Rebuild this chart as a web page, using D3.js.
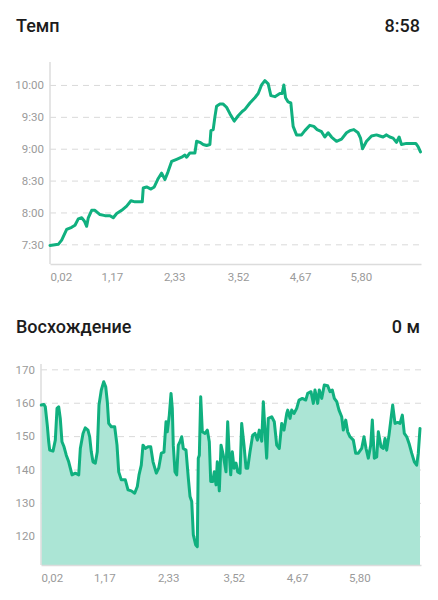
<!DOCTYPE html>
<html><head><meta charset="utf-8">
<script src="https://cdn.jsdelivr.net/npm/d3@7"></script>
<style>
html,body{margin:0;padding:0;background:#fff;}
svg{display:block;font-family:Roboto,"Noto Sans",sans-serif;}
</style></head>
<body><svg id="c" width="438" height="600"></svg>
<script>
// ---- data ----
const xTicks = [0.02, 1.17, 2.33, 3.52, 4.67, 5.80];
const xDomain = [0.02, 6.92];

const paceTitle = "Темп", paceValue = "8:58";
const paceTicks = [450, 480, 510, 540, 570, 600]; // seconds per km
const paceDomain = [431.5, 621.6];
const paceKm = [0.02,0.174,0.237,0.330,0.423,0.485,0.546,0.609,0.658,0.702,0.732,0.795,0.856,0.949,1.042,1.135,1.197,1.260,1.353,1.446,1.526,1.600,1.661,1.736,1.754,1.817,1.897,1.959,2.033,2.096,2.158,2.213,2.282,2.375,2.468,2.529,2.561,2.622,2.715,2.747,2.808,2.869,2.933,2.994,3.013,3.055,3.087,3.118,3.180,3.241,3.304,3.366,3.446,3.520,3.594,3.645,3.738,3.830,3.892,3.955,4.016,4.078,4.128,4.202,4.295,4.338,4.369,4.401,4.449,4.499,4.542,4.605,4.698,4.760,4.853,4.927,4.988,5.070,5.131,5.193,5.256,5.349,5.442,5.535,5.596,5.671,5.750,5.795,5.832,5.907,6.000,6.093,6.154,6.215,6.278,6.340,6.401,6.464,6.513,6.557,6.650,6.743,6.823,6.866,6.910];
const paceSec = [449,450,454,464,466,468,474,475,472,467,475,482,482,478,477,477,475,479,482,486,491,490,490,490,503,504,502,504,512,517,511,518,528,530,532,534,532,536,536,547,546,544,543,544,557,558,570,580,582,582,579,573,566,571,575,577,583,588,592,600,604,601,590,589,592,592,600,588,584,583,561,553,553,557,562,561,558,556,551,555,551,547,549,555,557,558,555,550,540,547,552,553,552,551,553,551,550,546,551,544,545,545,545,542,537];

const elevTitle = "Восхождение", elevValue = "0 м";
const elevTicks = [120, 130, 140, 150, 160, 170];
const elevDomain = [111.4, 171.6];
const elevKm = [0.025,0.074,0.098,0.134,0.160,0.178,0.238,0.280,0.311,0.341,0.370,0.401,0.438,0.479,0.523,0.552,0.583,0.643,0.705,0.734,0.783,0.824,0.873,0.904,0.933,0.964,1.006,1.042,1.073,1.115,1.159,1.195,1.224,1.249,1.297,1.358,1.400,1.431,1.478,1.551,1.600,1.660,1.721,1.769,1.800,1.841,1.872,1.914,1.963,2.012,2.054,2.114,2.157,2.205,2.253,2.290,2.313,2.350,2.381,2.404,2.422,2.453,2.484,2.513,2.544,2.575,2.604,2.653,2.695,2.726,2.757,2.786,2.829,2.858,2.876,2.895,2.920,2.949,2.998,3.040,3.076,3.102,3.138,3.167,3.198,3.221,3.258,3.289,3.330,3.379,3.410,3.434,3.465,3.494,3.525,3.561,3.592,3.634,3.664,3.706,3.743,3.773,3.815,3.864,3.906,3.948,3.984,4.028,4.057,4.088,4.118,4.147,4.209,4.256,4.300,4.347,4.391,4.433,4.482,4.500,4.542,4.572,4.614,4.663,4.705,4.765,4.827,4.863,4.923,4.965,4.995,5.044,5.073,5.117,5.164,5.226,5.268,5.310,5.346,5.390,5.431,5.480,5.509,5.553,5.589,5.631,5.691,5.734,5.782,5.843,5.885,5.922,5.963,6.007,6.036,6.072,6.116,6.145,6.194,6.236,6.267,6.297,6.339,6.376,6.406,6.448,6.497,6.539,6.581,6.617,6.661,6.703,6.751,6.799,6.842,6.871,6.902];
const elevM = [159.3,159.5,158.8,153.3,148.3,145.8,145.5,148.8,158.3,158.8,155.3,148.3,146.8,144.3,142.3,140.4,138.4,138.9,138.4,146.3,150.8,152.5,151.8,149.8,145.3,142.3,141.9,145.3,159.3,163.8,166.3,164.8,160.3,153.8,152.8,152.8,147.3,139.3,136.9,136.9,133.9,133.6,132.9,134.9,138.4,141.3,147.3,146.3,146.8,146.8,142.3,138.9,140.4,144.9,145.2,154.3,151.3,156.3,162.8,158.3,147.3,139.3,138.4,147.3,148.3,149.8,146.3,145.8,137.4,131.9,130.4,120.4,117.4,116.9,143.4,144.3,161.8,151.3,150.8,151.8,148.3,136.4,136.4,139.3,135.4,142.3,133.6,147.3,144.3,139.3,154.3,145.8,138.4,145.3,140.4,141.9,139.3,138.9,153.8,147.3,140.4,140.4,145.3,150.3,150.8,148.8,151.8,148.5,160.3,151.3,143.4,155.3,155.8,154.3,147.3,146.3,153.8,151.8,156.8,157.8,155.3,157.8,156.8,158.3,160.8,161.3,160.8,162.8,163.3,159.8,163.8,159.8,163.8,161.3,165.3,165.1,163.3,163.8,161.3,160.3,157.8,155.8,151.8,154.8,151.3,149.8,148.8,144.9,144.9,146.3,149.8,146.3,143.4,147.3,154.8,143.4,143.8,151.3,146.8,146.3,149.3,145.8,150.3,155.3,159.3,153.8,154.1,153.8,156.3,150.8,149.8,147.8,144.9,142.3,141.3,144.9,152.3];

// ---- style ----
const GREEN = "#10b07f", FILL = "#abe5d5", GRID = "#d9d9d9", LABEL = "#9a9a9a", AXIS = "#dcdcdc";
const svg = d3.select("#c");

function fmtPace(s){ const m = Math.floor(s/60), r = Math.round(s - m*60); return m + ":" + String(r).padStart(2,"0"); }
function fmtKm(v){ return v.toFixed(2).replace(".", ","); }

function drawPanel(o){
  // header
  svg.append("text").attr("x",16).attr("y",o.titleY).attr("font-size",18).attr("font-weight",500)
     .attr("fill","#1c1c1c").text(o.title);
  svg.append("text").attr("x",420).attr("y",o.titleY).attr("text-anchor","end").attr("font-size",18)
     .attr("font-weight",500).attr("fill","#1c1c1c").text(o.value);

  const x = d3.scaleLinear().domain(xDomain).range([o.left, 421]);
  const y = d3.scaleLinear().domain(o.yDomain).range([o.bottom, o.top]);
  const g = svg.append("g");

  // grid
  const gy = g.append("g").attr("transform",`translate(${o.left},0)`)
    .call(d3.axisLeft(y).tickValues(o.yTicks).tickSize(-(421-o.left)).tickFormat(o.yFmt).tickPadding(6));
  gy.select(".domain").remove();
  gy.selectAll(".tick line").attr("stroke",GRID).attr("stroke-width",1).attr("stroke-dasharray","6,5");
  gy.selectAll(".tick text").attr("fill",LABEL).attr("font-size",11.5).attr("font-family","Roboto, sans-serif");

  const data = o.xs.map((d,i)=>[d,o.ys[i]]);
  if(o.fill){
    g.append("path").datum(data).attr("fill",FILL)
     .attr("d", d3.area().x(d=>x(d[0])).y0(o.bottom).y1(d=>y(d[1])));
  }

  // axes lines
  g.append("line").attr("x1",o.left).attr("x2",o.left).attr("y1",o.top).attr("y2",o.bottom)
   .attr("stroke",AXIS).attr("stroke-width",1.5);
  const gx = g.append("g").attr("transform",`translate(0,${o.bottom})`)
    .call(d3.axisBottom(x).tickValues(xTicks).tickSize(0).tickFormat(fmtKm).tickPadding(9));
  gx.select(".domain").attr("stroke",AXIS).attr("stroke-width",1.5);
  gx.selectAll(".tick text").attr("fill",LABEL).attr("font-size",11.5).attr("font-family","Roboto, sans-serif")
    .attr("text-anchor",(d,i)=> i===0 ? "start" : "middle")
    .attr("x",(d,i)=> i===0 ? (o.left - x(d)) : 0);

  g.append("path").datum(data).attr("fill","none").attr("stroke",GREEN).attr("stroke-width",3)
   .attr("stroke-linejoin","round").attr("stroke-linecap","round")
   .attr("d", d3.line().x(d=>x(d[0])).y(d=>y(d[1])));
}

drawPanel({title:paceTitle, value:paceValue, titleY:32, left:50, top:62, bottom:264,
  yDomain:paceDomain, yTicks:paceTicks, yFmt:fmtPace, xs:paceKm, ys:paceSec, fill:false});
drawPanel({title:elevTitle, value:elevValue, titleY:333, left:41, top:364, bottom:565,
  yDomain:elevDomain, yTicks:elevTicks, yFmt:d3.format("d"), xs:elevKm, ys:elevM, fill:true});
</script></body></html>
